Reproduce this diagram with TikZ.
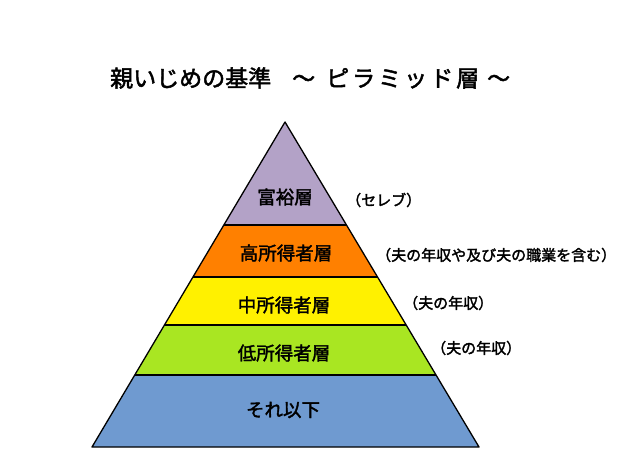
\documentclass[tikz,border=0pt]{standalone}
\usepackage{fontspec}
\newfontfamily\jp[FakeBold=2]{Noto Sans CJK JP}
\usetikzlibrary{calc}
\definecolor{lv}{HTML}{B3A2C7}
\definecolor{orng}{HTML}{FF8000}
\definecolor{ylw}{HTML}{FFF100}
\definecolor{grn}{HTML}{A9E622}
\definecolor{blu}{HTML}{6F9AD0}
\begin{document}
\begin{tikzpicture}[x=1pt,y=-1pt,
  lay/.style={draw=black,line width=1.3pt,line join=round},
  lbl/.style={font=\jp\fontsize{18.5}{20}\selectfont,inner sep=0pt},
  note/.style={font=\jp\fontsize{15}{16}\selectfont,anchor=west,inner sep=0pt},
  ttl/.style={font=\jp\fontsize{23}{25}\selectfont,anchor=west,inner sep=0pt}]
\useasboundingbox[fill=white] (0,0) rectangle (644,475);
\coordinate (A) at (285,122);
\coordinate (L) at (92,447);
\coordinate (R) at (479,447);
\coordinate (L1) at ($(A)!0.3169!(L)$); \coordinate (R1) at ($(A)!0.3169!(R)$);
\coordinate (L2) at ($(A)!0.4769!(L)$); \coordinate (R2) at ($(A)!0.4769!(R)$);
\coordinate (L3) at ($(A)!0.6246!(L)$); \coordinate (R3) at ($(A)!0.6246!(R)$);
\coordinate (L4) at ($(A)!0.7785!(L)$); \coordinate (R4) at ($(A)!0.7785!(R)$);
\fill[lv] (A) -- (R1) -- (L1) -- cycle;
\fill[orng] (L1) -- (R1) -- (R2) -- (L2) -- cycle;
\fill[ylw] (L2) -- (R2) -- (R3) -- (L3) -- cycle;
\fill[grn] (L3) -- (R3) -- (R4) -- (L4) -- cycle;
\fill[blu] (L4) -- (R4) -- (R) -- (L) -- cycle;
\draw[lay] (L1) -- (R1);
\draw[lay] (L2) -- (R2);
\draw[lay] (L3) -- (R3);
\draw[lay] (L4) -- (R4);
\draw[lay] (A) -- (R) -- (L) -- cycle;
\node[ttl] (title) at (110,78) {親いじめの基準\hspace{21pt}～\hspace{11pt}{\addfontfeature{LetterSpace=13}ピラミッド層}\hspace{8pt}～};
\node[lbl] (t1) at (285,197) {富裕層};
\node[lbl] (t2) at (286,253) {高所得者層};
\node[lbl] (t3) at (284,305) {中所得者層};
\node[lbl] (t4) at (284,353) {低所得者層};
\node[lbl] (t5) at (283,410) {それ以下};
\node[note] (n1) at (346,200) {（セレブ）};
\node[note] (n2) at (376,255) {（夫の年収や及び夫の職業を含む）};
\node[note] (n3) at (403,303) {（夫の年収）};
\node[note] (n4) at (431,348) {（夫の年収）};
\end{tikzpicture}
\end{document}
